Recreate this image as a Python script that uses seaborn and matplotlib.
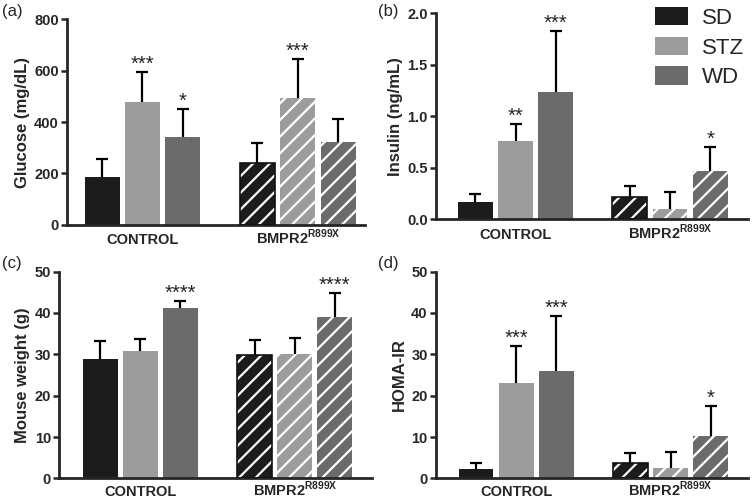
import numpy as np
import pandas as pd
import matplotlib
matplotlib.use("Agg")
import matplotlib.pyplot as plt
from matplotlib.patches import Patch
import seaborn as sns

groups = ["CONTROL", r"BMPR2$^{\mathbf{R899X}}$"]
diets = ["SD", "STZ", "WD"]
colors = ["#1c1c1c", "#9c9c9c", "#6b6b6b"]

# values ordered CONTROL SD/STZ/WD, BMPR2 SD/STZ/WD
glucose_mean = [188, 477, 343, 242, 495, 322]
glucose_err = [67, 119, 107, 78, 151, 89]
glucose_stars = ["", "***", "*", "", "***", ""]

insulin_mean = [0.17, 0.76, 1.23, 0.21, 0.10, 0.47]
insulin_err = [0.07, 0.16, 0.60, 0.11, 0.16, 0.23]
insulin_stars = ["", "**", "***", "", "", "*"]

weight_mean = [28.9, 30.7, 41.3, 29.8, 30.0, 39.1]
weight_err = [4.2, 2.9, 1.6, 3.7, 3.9, 5.8]
weight_stars = ["", "", "****", "", "", "****"]

homa_mean = [2.2, 23.1, 26.0, 3.8, 2.5, 10.2]
homa_err = [1.4, 8.9, 13.3, 2.3, 3.8, 7.4]
homa_stars = ["", "***", "***", "", "", "*"]

sns.set_style("ticks")
plt.rcParams["font.family"] = ["Liberation Sans", "DejaVu Sans"]
plt.rcParams["mathtext.fontset"] = "custom"
plt.rcParams["mathtext.rm"] = "Liberation Sans"
plt.rcParams["mathtext.bf"] = "Liberation Sans:bold"
plt.rcParams["hatch.linewidth"] = 1.6

fig = plt.figure(figsize=(7.52, 5.03), dpi=100)

panels = [
    ("(a)", [0.0891, 0.5527, 0.396, 0.4095], glucose_mean, glucose_err, glucose_stars,
     "Glucose (mg/dL)", (0, 800), np.arange(0, 801, 200), (-0.486, 1.431), (0.002, 0.992), 14),
    ("(b)", [0.5798, 0.5646, 0.4145, 0.409], insulin_mean, insulin_err, insulin_stars,
     "Insulin (ng/mL)", (0, 2.0), np.arange(0, 2.01, 0.5), (-0.515, 1.503), (0.502, 0.992), 14.5),
    ("(c)", [0.0789, 0.049, 0.4155, 0.411], weight_mean, weight_err, weight_stars,
     "Mouse weight (g)", (0, 50), np.arange(0, 51, 10), (-0.525, 1.50), (0.002, 0.492), 12.5),
    ("(d)", [0.5798, 0.049, 0.4145, 0.411], homa_mean, homa_err, homa_stars,
     "HOMA-IR", (0, 50), np.arange(0, 51, 10), (-0.519, 1.50), (0.502, 0.492), 12.5),
]

for label, rect, mean, err, stars, ylab, ylim, yticks, xlim, lpos, xpad in panels:
    ax = fig.add_axes(rect)
    df = pd.DataFrame({
        "group": [g for g in groups for _ in diets],
        "diet": diets * len(groups),
        "value": mean,
    })
    sns.barplot(data=df, x="group", y="value", hue="diet", hue_order=diets,
                order=groups, palette=colors, saturation=1, width=0.78, gap=0.13,
                errorbar=None, legend=False, linewidth=0, ax=ax)

    bar_sets = list(ax.containers)
    for i, cont in enumerate(bar_sets):
        for j, p in enumerate(cont.patches):
            k = j * len(diets) + i
            cx = p.get_x() + p.get_width() / 2
            top = p.get_height()
            # symmetric bar drawn behind the column, so only the upper half shows
            ax.errorbar(cx, top, yerr=err[k], color="black", lw=1.6,
                        capsize=4.5, capthick=1.6, zorder=1)
            if j == 1:
                p.set_hatch("//")
                p.set_edgecolor("white")
                p.set_linewidth(0)
                if i == 0:
                    ax.add_patch(plt.Rectangle(p.get_xy(), p.get_width(), p.get_height(),
                                               fill=False, edgecolor="#111111", lw=1.2, zorder=3))
            p.set_zorder(2)
            if stars[k]:
                ax.annotate(stars[k], (cx, top + err[k]), xytext=(0, 1.5),
                            textcoords="offset points", ha="center", va="baseline",
                            fontsize=14.5, annotation_clip=False)

    ax.set_xlim(*xlim)
    ax.set_ylim(*ylim)
    ax.set_yticks(yticks)
    if ylim[1] < 5:
        ax.set_yticklabels([f"{t:.1f}" for t in yticks])
    ax.set_xlabel("")
    ax.set_ylabel(ylab, fontsize=12, fontweight="bold", labelpad=3)
    sns.despine(ax=ax)
    for s in ["left", "bottom"]:
        ax.spines[s].set_linewidth(2)
    ax.tick_params(axis="y", length=4.5, width=1.8, labelsize=10.5, pad=1.5)
    ax.tick_params(axis="x", length=0, labelsize=10.5, pad=xpad)
    for t in ax.get_yticklabels():
        t.set_fontweight("bold")
    for t in ax.get_xticklabels():
        t.set_fontweight("bold")
        t.set_verticalalignment("baseline")
    fig.text(lpos[0], lpos[1], label, fontsize=12, va="top", ha="left")

    if label == "(b)":
        handles = [Patch(facecolor=c, edgecolor="none") for c in colors]
        ax.legend(handles, diets, loc="upper left", bbox_to_anchor=(655 / 752, 1 - 7 / 503),
                  bbox_transform=fig.transFigure, frameon=False, fontsize=16,
                  handlelength=1.5, handleheight=0.9, handletextpad=0.6,
                  labelspacing=0.35, borderpad=0, borderaxespad=0)

fig.savefig("out.png", dpi=100)
